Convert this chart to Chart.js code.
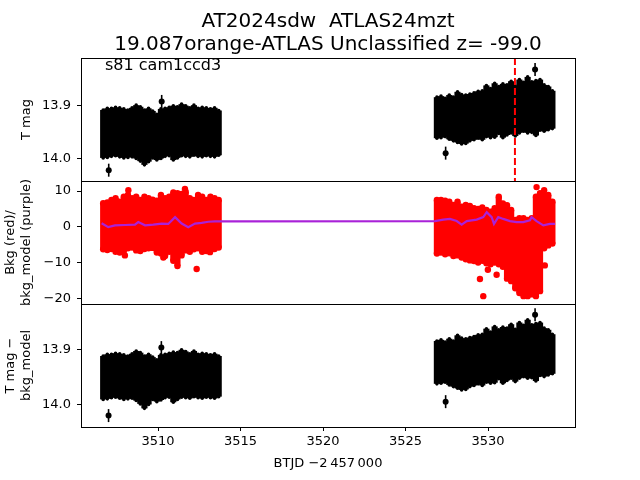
<!DOCTYPE html>
<html>
<head>
<meta charset="utf-8">
<script src="https://cdn.jsdelivr.net/npm/chart.js@4"></script>
<style>
  html, body { margin: 0; padding: 0; background: #fff; }
  #wrap { position: relative; width: 640px; height: 480px; }
  #wrap canvas { position: absolute; left: 0; top: 0; }
</style>
</head>
<body>
<div id="wrap">
  <canvas id="c1" width="640" height="480"></canvas>
  <canvas id="c2" width="640" height="480"></canvas>
  <canvas id="c3" width="640" height="480"></canvas>
</div>
<script>
// ---------------- data ----------------
const titleLines = ['AT2024sdw  ATLAS24mzt', '19.087orange-ATLAS Unclassified z= -99.0'];
const sectorLabel = 's81 cam1ccd3';
const xTitle = 'BTJD \u22122\u2009457\u2009000';
const xTicks = [3510, 3515, 3520, 3525, 3530];
const magTicks = [13.9, 14.0];
const bkgTicks = [10, 0, -10, -20];
const eventTime = 3531.63;

// time bins (days, BTJD - 2457000)
const binT1 = [3506.675, 3506.925, 3507.175, 3507.425, 3507.675, 3507.925, 3508.175, 3508.425, 3508.675, 3508.925,
               3509.175, 3509.425, 3509.675, 3509.925, 3510.175, 3510.425, 3510.675, 3510.925, 3511.175, 3511.425,
               3511.675, 3511.925, 3512.175, 3512.425, 3512.675, 3512.925, 3513.175, 3513.425, 3513.675];
const binT2 = [3526.90, 3527.15, 3527.40, 3527.65, 3527.90, 3528.15, 3528.40, 3528.65, 3528.90, 3529.15,
               3529.40, 3529.65, 3529.90, 3530.15, 3530.40, 3530.65, 3530.90, 3531.15, 3531.40, 3531.65,
               3531.90, 3532.15, 3532.40, 3532.65, 3532.90, 3533.15, 3533.40, 3533.65, 3533.90];

// panel 1: T mag band
const magTop1 = [13.908, 13.905, 13.905, 13.903, 13.904, 13.906, 13.908, 13.904, 13.899, 13.902,
                 13.908, 13.905, 13.910, 13.916, 13.906, 13.905, 13.903, 13.900, 13.902, 13.897,
                 13.900, 13.904, 13.899, 13.905, 13.903, 13.904, 13.906, 13.904, 13.909];
const magBot1 = [13.998, 13.997, 13.995, 13.994, 13.996, 13.998, 13.997, 13.996, 13.999, 14.004,
                 14.011, 14.005, 13.998, 14.002, 13.999, 13.995, 13.994, 14.002, 13.998, 13.994,
                 13.995, 13.996, 13.993, 13.995, 13.996, 13.994, 13.995, 13.996, 13.993];
const magTop2 = [13.884, 13.882, 13.886, 13.880, 13.884, 13.874, 13.879, 13.880, 13.878, 13.876,
                 13.873, 13.872, 13.862, 13.868, 13.858, 13.864, 13.859, 13.861, 13.854, 13.863,
                 13.851, 13.856, 13.846, 13.855, 13.853, 13.851, 13.861, 13.864, 13.872];
const magBot2 = [13.961, 13.960, 13.958, 13.963, 13.966, 13.969, 13.972, 13.971, 13.966, 13.964,
                 13.961, 13.964, 13.958, 13.960, 13.959, 13.952, 13.960, 13.955, 13.951, 13.957,
                 13.951, 13.948, 13.951, 13.950, 13.956, 13.946, 13.948, 13.945, 13.943];
const magOutT = [3510.22, 3507.01, 3527.43, 3532.85];
const magOutY = [13.892, 14.021, 13.989, 13.832];

// panel 2: background flux (red) and background model (purple)
const bkgTop1 = [6.6, 6.8, 7.5, 8.0, 7.0, 8.4, 8.9, 8.0, 8.4, 7.5,
                 8.4, 8.0, 7.6, 7.3, 8.9, 8.0, 8.4, 9.6, 9.4, 9.2,
                 9.8, 8.0, 7.5, 8.9, 8.4, 7.5, 8.4, 8.0, 7.5];
const bkgBot1 = [-6.3, -6.5, -6.2, -7.0, -7.2, -6.8, -6.0, -5.8, -6.6, -6.8,
                 -6.2, -6.0, -5.9, -7.2, -7.5, -8.2, -7.0, -9.5, -11.0, -8.0,
                 -6.6, -7.0, -6.3, -6.0, -7.0, -6.8, -6.5, -6.2, -5.8];
const bkgTop2 = [7.5, 7.5, 7.3, 7.0, 6.1, 7.0, 5.6, 6.1, 5.8, 5.2,
                 5.0, 5.4, 4.7, 4.2, 5.2, 8.4, 6.5, 6.0, 4.7, 1.9,
                 2.4, 2.4, 1.9, 2.4, 8.4, 9.4, 9.0, 8.9, 7.0];
const bkgBot2 = [-7.5, -7.2, -7.7, -7.4, -8.2, -8.0, -8.6, -9.1, -9.4, -9.6,
                 -10.0, -9.5, -10.2, -10.5, -10.0, -10.5, -11.2, -14.5, -15.2, -17.2,
                 -18.5, -19.4, -19.4, -18.9, -19.4, -18.0, -6.0, -5.2, -4.7];
const bkgOutT = [3507.99, 3510.32, 3512.34, 3513.15, 3511.63, 3508.20,
                 3529.51, 3529.71, 3529.99, 3530.52, 3533.44, 3532.94, 3533.40];
const bkgOutY = [-8.0, -8.6, -11.8, -7.1, 10.6, 10.2,
                 -14.6, -19.4, -12.0, -13.4, -10.8, 11.1, 10.2];
const modelT = [3506.58, 3506.98, 3507.39, 3508.00, 3508.60, 3508.80, 3509.21, 3509.71, 3510.22, 3510.62,
                3511.03, 3511.43, 3511.83, 3512.24, 3512.64, 3513.05, 3513.45, 3513.86,
                3526.78, 3527.29, 3527.69, 3528.10, 3528.40, 3528.71, 3529.31, 3529.71, 3529.92, 3530.22,
                3530.36, 3530.62, 3530.92, 3531.33, 3531.73, 3532.13, 3532.54, 3532.64, 3532.94, 3533.35,
                3533.75, 3534.06];
const modelY = [1.0, -0.1, 0.4, 0.5, 0.6, 1.3, 0.4, 0.6, 0.9, 0.8,
                2.7, 0.9, -0.1, 0.9, 1.1, 1.4, 1.5, 1.5,
                1.6, 2.0, 2.2, 1.6, 0.6, 1.6, 2.0, 2.7, 4.1, 2.7,
                0.8, 2.7, 2.2, 1.6, 1.3, 1.3, 1.8, 2.7, 1.6, 0.4,
                0.8, 0.8];

// panel 3: T mag - bkg_model band
const subTop1 = [13.912, 13.909, 13.909, 13.907, 13.908, 13.910, 13.912, 13.908, 13.903, 13.906,
                 13.912, 13.909, 13.914, 13.919, 13.910, 13.909, 13.907, 13.905, 13.906, 13.901,
                 13.904, 13.908, 13.903, 13.909, 13.907, 13.908, 13.910, 13.908, 13.912];
const subBot1 = [13.990, 13.989, 13.987, 13.986, 13.988, 13.990, 13.989, 13.988, 13.992, 13.998,
                 14.006, 13.999, 13.990, 13.994, 13.991, 13.987, 13.986, 13.995, 13.990, 13.986,
                 13.987, 13.988, 13.985, 13.987, 13.988, 13.986, 13.987, 13.988, 13.985];
const subTop2 = [13.885, 13.883, 13.887, 13.881, 13.885, 13.875, 13.880, 13.881, 13.879, 13.877,
                 13.874, 13.873, 13.863, 13.869, 13.859, 13.865, 13.860, 13.862, 13.855, 13.864,
                 13.852, 13.857, 13.847, 13.856, 13.854, 13.852, 13.862, 13.865, 13.873];
const subBot2 = [13.962, 13.961, 13.959, 13.964, 13.967, 13.970, 13.973, 13.972, 13.967, 13.965,
                 13.962, 13.965, 13.959, 13.961, 13.960, 13.953, 13.961, 13.956, 13.952, 13.958,
                 13.952, 13.949, 13.952, 13.951, 13.957, 13.947, 13.949, 13.946, 13.944];
const subOutT = [3510.20, 3507.00, 3527.43, 3532.85];
const subOutY = [13.897, 14.019, 13.994, 13.838];

// axis ranges
const X_MIN = 3505.33, X_MAX = 3535.27;
const MAG_MIN = 13.8105, MAG_MAX = 14.0413;
const BKG_MIN = -21.59, BKG_MAX = 12.80;
const SUB_MIN = 13.8187, SUB_MAX = 14.0395;

// ---------------- helpers ----------------
Chart.defaults.font.family = "'DejaVu Sans', sans-serif";
Chart.defaults.color = '#000';
Chart.defaults.animation = false;

const W = 640, H = 480;
const PLOT_R = 575;
const PANEL_Y = [58, 181, 304, 427];
const AXIS_W = 81;
const X_AXIS_H = 48;

function bandData(ts, lo, hi) {
  return ts.map((t, i) => ({x: t, y: [lo[i], hi[i]]}));
}
function pts(ts, ys) {
  return ts.map((t, i) => ({x: t, y: ys[i]}));
}
function setTicks(vals) {
  return (scale) => { scale.ticks = vals.map(v => ({value: v})); };
}
const minusFmt = v => (v < 0 ? '\u2212' + Math.abs(v) : String(v));

const boxPlugin = {
  id: 'box',
  afterDraw(chart) {
    const {ctx, chartArea: a} = chart;
    ctx.save();
    ctx.strokeStyle = '#000';
    ctx.lineWidth = 1;
    ctx.strokeRect(Math.round(a.left) + 0.5, Math.round(a.top) + 0.5,
                   Math.round(a.right - a.left), Math.round(a.bottom - a.top));
    ctx.restore();
  }
};

const textPlugin = {
  id: 'texts',
  afterDraw(chart) {
    const ctx = chart.ctx;
    const cx = (chart.chartArea.left + chart.chartArea.right) / 2;
    ctx.save();
    ctx.fillStyle = '#000';
    ctx.textAlign = 'center';
    ctx.textBaseline = 'alphabetic';
    ctx.font = "20px 'DejaVu Sans'";
    ctx.fillText(titleLines[0], cx, 27);
    ctx.fillText(titleLines[1], cx, 50);
    ctx.textAlign = 'left';
    ctx.font = "16px 'DejaVu Sans'";
    ctx.fillText(sectorLabel, 105, 70);
    ctx.restore();
  }
};

function xScale(show) {
  return {
    type: 'linear', min: X_MIN, max: X_MAX, display: show, offset: false,
    afterBuildTicks: setTicks(xTicks),
    afterFit: (s) => { if (show) s.height = X_AXIS_H; },
    grid: {display: true, offset: false, drawOnChartArea: false, drawTicks: true, tickLength: 4, color: '#000'},
    border: {display: false},
    ticks: {font: {size: 13}, padding: 3, maxRotation: 0, autoSkip: false, callback: v => String(v)},
    title: {display: show, text: xTitle, font: {size: 13}, padding: {top: 0, bottom: 4}}
  };
}
function yScale(min, max, reverse, ticks, fmt, title, titlePad) {
  return {
    type: 'linear', min: min, max: max, reverse: reverse,
    afterBuildTicks: setTicks(ticks),
    afterFit: (s) => { s.width = AXIS_W; },
    grid: {display: true, drawOnChartArea: false, drawTicks: true, tickLength: 4, color: '#000'},
    border: {display: false},
    ticks: {font: {size: 13}, padding: 6, callback: fmt},
    title: {display: true, text: title, font: {size: 13}, padding: {top: titlePad, bottom: 0}}
  };
}
function padding(i, withX) {
  return {left: 0, right: W - PLOT_R, top: PANEL_Y[i],
          bottom: H - PANEL_Y[i + 1] - (withX ? X_AXIS_H : 0)};
}
const barStyle = (color) => ({
  type: 'bar', backgroundColor: color, borderColor: color, borderWidth: 0,
  barPercentage: 1.5, categoryPercentage: 1.0, borderSkipped: false
});
function edgeDots(ts, ys, color, r, order) {
  return {type: 'line', data: pts(ts, ys), showLine: false, pointStyle: 'circle',
          pointRadius: r, borderWidth: 0, backgroundColor: color, order: order};
}
function outlierSets(ts, ys, order) {
  return [
    {type: 'line', data: pts(ts, ys), showLine: false, pointStyle: 'line', rotation: 90,
     pointRadius: 6.5, borderColor: '#000', borderWidth: 1.6, backgroundColor: '#000', order: order},
    edgeDots(ts, ys, '#000', 3, order)
  ];
}
const common = {
  responsive: false, devicePixelRatio: 1, animation: false,
  plugins: {legend: {display: false}, tooltip: {enabled: false}, title: {display: false}},
  events: []
};

// ---------------- panel 1 ----------------
new Chart(document.getElementById('c1'), {
  type: 'bar',
  data: {datasets: [
    Object.assign(barStyle('#000'), {data: bandData(binT1, magTop1, magBot1).concat(bandData(binT2, magTop2, magBot2)), order: 3}),
    edgeDots(binT1.concat(binT1, binT2, binT2), magTop1.concat(magBot1, magTop2, magBot2), '#000', 1.8, 3),
    ...outlierSets(magOutT, magOutY, 2),
    {type: 'line', data: [{x: eventTime, y: MAG_MIN}, {x: eventTime, y: MAG_MAX}],
     borderColor: '#ff0000', borderWidth: 2, borderDash: [7, 3], pointRadius: 0, order: 0}
  ]},
  options: Object.assign({}, common, {
    layout: {padding: padding(0, false)},
    scales: {
      x: xScale(false),
      y: yScale(MAG_MIN, MAG_MAX, true, magTicks, v => v.toFixed(1), 'T mag', 19)
    }
  }),
  plugins: [boxPlugin, textPlugin]
});

// ---------------- panel 2 ----------------
new Chart(document.getElementById('c2'), {
  type: 'bar',
  data: {datasets: [
    Object.assign(barStyle('#ff0000'), {data: bandData(binT1, bkgBot1, bkgTop1).concat(bandData(binT2, bkgBot2, bkgTop2)), order: 4}),
    edgeDots(binT1.concat(binT1, binT2, binT2), bkgTop1.concat(bkgBot1, bkgTop2, bkgBot2), '#ff0000', 3.2, 3),
    edgeDots(bkgOutT, bkgOutY, '#ff0000', 3.2, 2),
    {type: 'line', data: pts(modelT, modelY), borderColor: '#a922d8', borderWidth: 2.2,
     pointRadius: 0, tension: 0, order: 0}
  ]},
  options: Object.assign({}, common, {
    layout: {padding: padding(1, false)},
    scales: {
      x: xScale(false),
      y: yScale(BKG_MIN, BKG_MAX, false, bkgTicks, minusFmt, ['Bkg (red)/', 'bkg_model (purple)'], 3)
    }
  }),
  plugins: [boxPlugin]
});

// ---------------- panel 3 ----------------
new Chart(document.getElementById('c3'), {
  type: 'bar',
  data: {datasets: [
    Object.assign(barStyle('#000'), {data: bandData(binT1, subTop1, subBot1).concat(bandData(binT2, subTop2, subBot2)), order: 3}),
    edgeDots(binT1.concat(binT1, binT2, binT2), subTop1.concat(subBot1, subTop2, subBot2), '#000', 1.8, 3),
    ...outlierSets(subOutT, subOutY, 2)
  ]},
  options: Object.assign({}, common, {
    layout: {padding: padding(2, true)},
    scales: {
      x: xScale(true),
      y: yScale(SUB_MIN, SUB_MAX, true, magTicks, v => v.toFixed(1), ['T mag \u2212', 'bkg_model'], 3)
    }
  }),
  plugins: [boxPlugin]
});
</script>
</body>
</html>
